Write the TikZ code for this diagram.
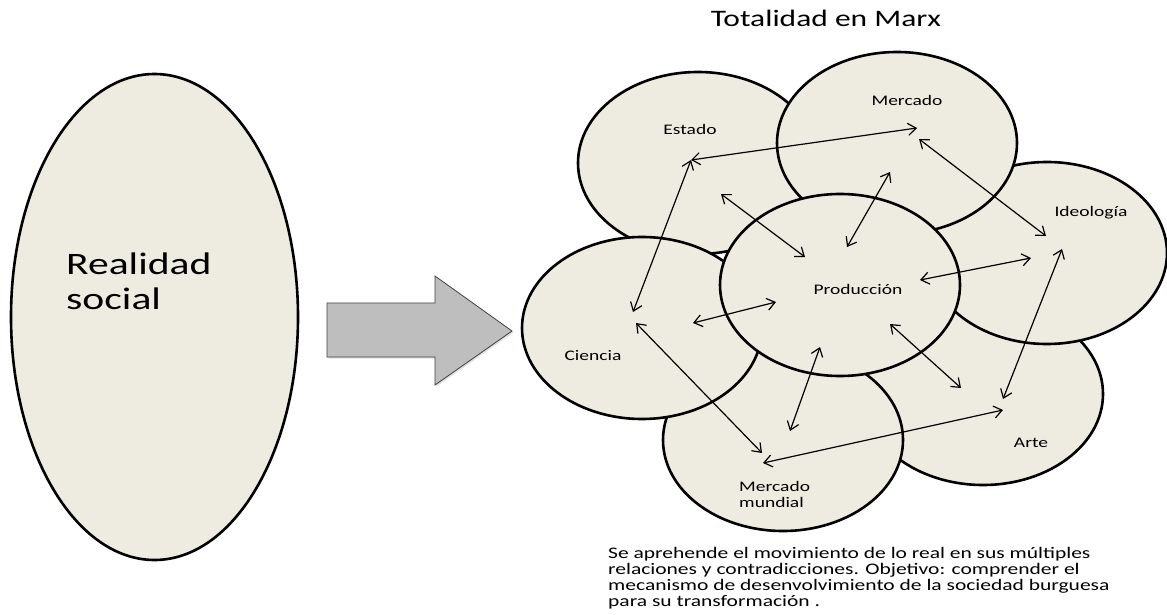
\documentclass[tikz,border=0pt]{standalone}
\usepackage{fontspec}
\setmainfont{Carlito}
\usepackage{tikz}
\usetikzlibrary{calc,shapes,arrows.meta,shadows}

\definecolor{tanfill}{HTML}{EEECE1}
\definecolor{arrowgray}{HTML}{BEBEBE}

\begin{document}
\begin{tikzpicture}[x=1pt,y=-1pt,
    bubble/.style={ellipse,draw,line width=2.6pt,fill=tanfill,inner sep=0pt,
      minimum width=240pt,minimum height=182pt},
    lbl/.style={inner sep=0pt,yscale=0.75,font=\fontsize{19.5}{21.3}\selectfont},
    link/.style={<->,>={Straight Barb[length=8pt,width=12pt]},line width=1.2pt}]
  \useasboundingbox (0,0) rectangle (1167,615);

  %% Left side: the social reality
  \node[ellipse,draw,line width=2.6pt,fill=tanfill,inner sep=0pt,
    minimum width=287pt,minimum height=486pt] (REAL) at (154.5,317) {};
  \node[lbl,anchor=west,align=left,font=\fontsize{41.6}{46.7}\selectfont] (REALtxt)
    at (66,281.5) {Realidad\\social};

  %% Big grey arrow
  \draw[fill=arrowgray,draw=black!75,line width=0.8pt,
    drop shadow={opacity=0.25,shadow xshift=1.5pt,shadow yshift=-1.5pt}]
    (327,303) -- (435,303) -- (435,276) -- (512,331) -- (435,385) -- (435,357) -- (327,357) -- cycle;

  \node[lbl,anchor=base,font=\fontsize{31.5}{34}\selectfont] (TITLE) at (826,27) {Totalidad en Marx};

  %% Bubbles, the ones at the back first
  \foreach \n/\x/\y in {EST/698/163, ART/983/394, IDE/1047/253, MER/897/143,
      MMU/783/440, CIE/642/328, PRO/840/285}
    \node[bubble] (\n) at (\x,\y) {};

  %% Bubble labels
  \foreach \n/\x/\y/\t in {EST/690/135/Estado, MER/907/106/Mercado, IDE/1091/216/Ideología,
      PRO/858/294/Producción, CIE/593/360/Ciencia, ART/1031/447/Arte}
    \node[lbl,anchor=base] (\n txt) at (\x,\y) {\t};
  \node[lbl,anchor=west,align=left] (MMUtxt) at (739,494) {Mercado\\mundial};

  %% End points of the arrows
  \foreach \n/\x/\y in {est1/691/160, est2/721/194, mer1/917/128, mer2/919/139, mer3/890/172,
      ide1/1046/236, ide2/1031/258, ide3/1062/249, cie1/633/312, cie2/693/323, cie3/636/323,
      pro1/805/257, pro2/776/302, pro3/847/247, pro4/920/280, pro5/890/324, pro6/820/347,
      art1/1003/399, art2/961/388, art3/1003/410, mmu1/790/431, mmu2/763/463, mmu3/762/453}
    \coordinate (\n) at (\x,\y);

  %% Drawing the arrows between bubbles
  \foreach \a/\b in {est1/mer1, est1/cie1, est2/pro1, cie2/pro2, pro3/mer3, mer2/ide1,
      pro4/ide2, ide3/art1, pro5/art2, pro6/mmu1, mmu2/art3, cie3/mmu3}
    \draw[link] (\a) -- (\b);

  \node[lbl,anchor=north west,align=left,font=\fontsize{21.5}{21.3}\selectfont] (NOTE) at (608,547)
    {Se aprehende el movimiento de lo real en sus múltiples\\
     relaciones y contradicciones. Objetivo: comprender el\\
     mecanismo de desenvolvimiento de la sociedad burguesa\\
     para su transformación .};
\end{tikzpicture}
\end{document}
